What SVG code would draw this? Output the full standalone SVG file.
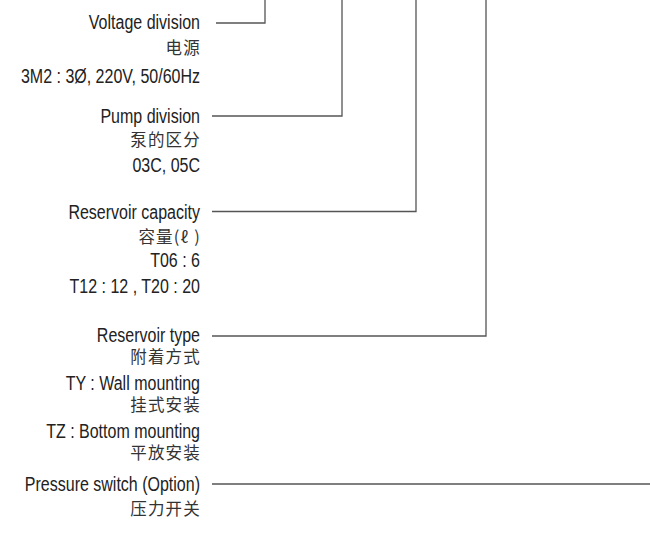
<svg xmlns="http://www.w3.org/2000/svg" width="650" height="544" viewBox="0 0 650 544">
<style>
.en{font-family:"Liberation Sans",Arial,sans-serif;font-size:20px;fill:#222;text-anchor:end}
.cn{font-family:"Noto Sans CJK SC","Noto Sans",sans-serif;font-size:16.5px;fill:#333;text-anchor:end;letter-spacing:1.2px}
.ln{fill:none;stroke:#555;stroke-width:1.3}
</style>
<rect width="650" height="544" fill="#fff"/>
<g id="connectors">
<polyline class="ln" points="216,23 265,23 265,0"/>
<polyline class="ln" points="212,116 342,116 342,0"/>
<polyline class="ln" points="212,211.5 416,211.5 416,0"/>
<polyline class="ln" points="212,336 486,336 486,0"/>
<polyline class="ln" points="212,484 650,484"/>
</g>
<g id="voltage">
<text class="en" transform="translate(200,29) scale(0.8,1)">Voltage division</text>
<text class="cn" x="201" y="54">电源</text>
<text class="en" transform="translate(200,83) scale(0.8,1)">3M2 : 3Ø, 220V, 50/60Hz</text>
</g>
<g id="pump">
<text class="en" transform="translate(200,123) scale(0.8,1)">Pump division</text>
<text class="cn" x="201" y="146">泵的区分</text>
<text class="en" transform="translate(200,172) scale(0.8,1)">03C, 05C</text>
</g>
<g id="capacity">
<text class="en" transform="translate(200,219) scale(0.8,1)">Reservoir capacity</text>
<text class="cn" x="201" y="243">容量(ℓ )</text>
<text class="en" transform="translate(200,267) scale(0.8,1)">T06 : 6</text>
<text class="en" transform="translate(200,293) scale(0.8,1)">T12 : 12 , T20 : 20</text>
</g>
<g id="type">
<text class="en" transform="translate(200,342) scale(0.8,1)">Reservoir type</text>
<text class="cn" x="201" y="363">附着方式</text>
<text class="en" transform="translate(200,390) scale(0.8,1)">TY : Wall mounting</text>
<text class="cn" x="201" y="411">挂式安装</text>
<text class="en" transform="translate(200,438) scale(0.8,1)">TZ : Bottom mounting</text>
<text class="cn" x="201" y="459">平放安装</text>
</g>
<g id="pressure">
<text class="en" transform="translate(200,491) scale(0.8,1)">Pressure switch (Option)</text>
<text class="cn" x="201" y="515">压力开关</text>
</g>
</svg>
